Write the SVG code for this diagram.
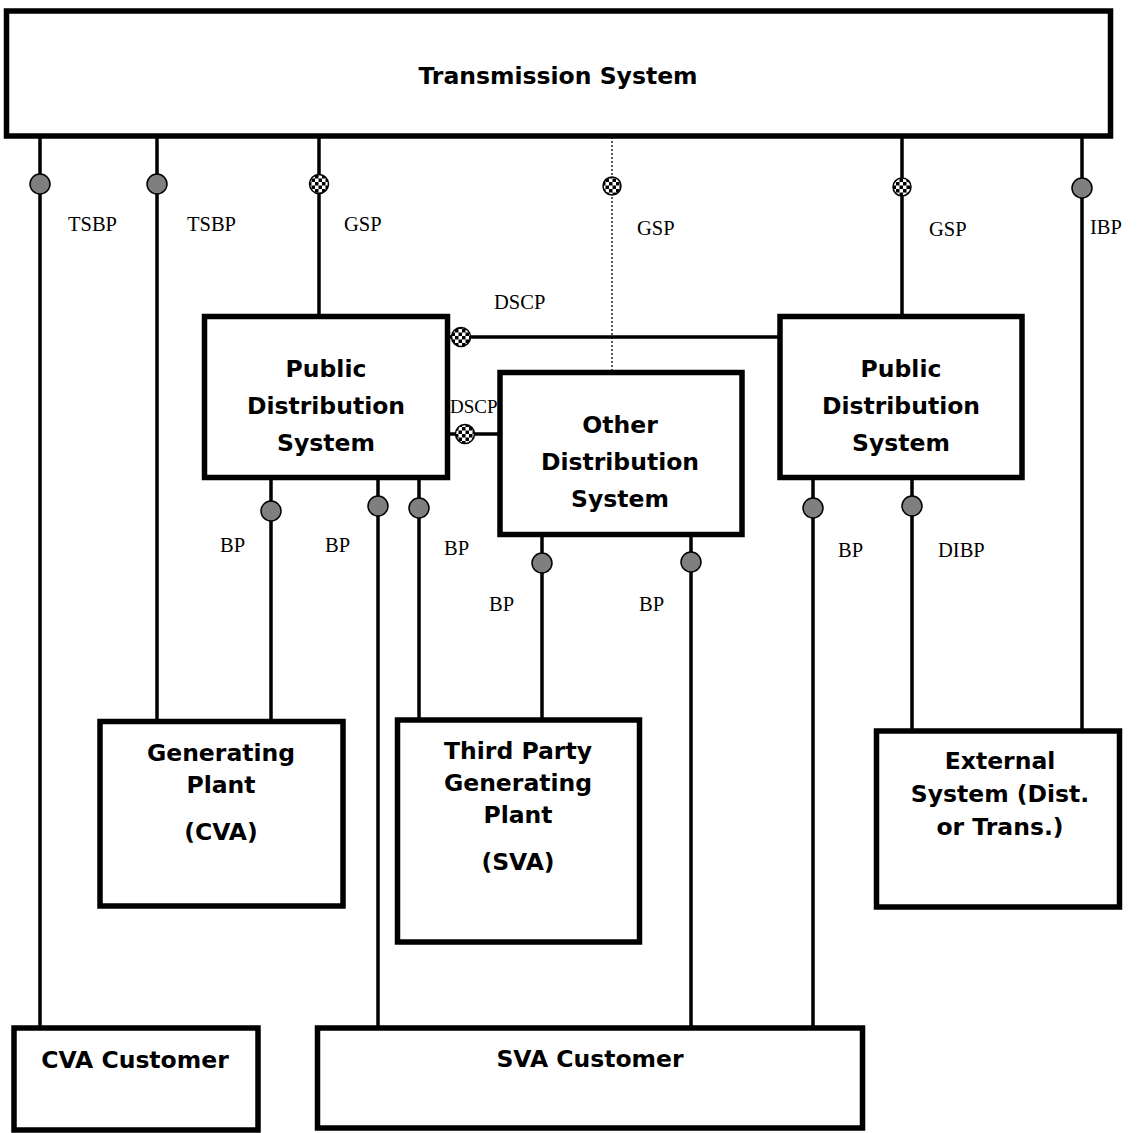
<svg xmlns="http://www.w3.org/2000/svg" width="1142" height="1133" viewBox="0 0 1142 1133">
<defs>
<pattern id="chk" width="7" height="7" patternUnits="userSpaceOnUse">
<rect width="7" height="7" fill="#fff"/>
<rect width="3.5" height="3.5" fill="#000"/>
<rect x="3.5" y="3.5" width="3.5" height="3.5" fill="#000"/>
</pattern>
</defs>
<style>
.box{fill:#fff;stroke:#000;stroke-width:5.5}
.t{font-family:"DejaVu Sans",Verdana,sans-serif;font-weight:bold;font-size:23.5px;text-anchor:middle;fill:#000}
.lbl{font-family:"Liberation Serif","Times New Roman",serif;font-size:20.5px;fill:#000}
.ln{stroke:#000;stroke-width:3.5;fill:none}
.dot{stroke:#000;stroke-width:1.3;stroke-dasharray:2 2;fill:none}
.bp{fill:#7f7f7f;stroke:#000;stroke-width:1.5}
.gsp{fill:url(#chk);stroke:#000;stroke-width:1.5}
</style>
<g id="connectors">
<line class="ln" x1="40" y1="137" x2="40" y2="1028"/>
<line class="ln" x1="157" y1="137" x2="157" y2="721"/>
<line class="ln" x1="319" y1="137" x2="319" y2="316"/>
<line class="dot" x1="612" y1="137" x2="612" y2="372"/>
<line class="ln" x1="902" y1="137" x2="902" y2="316"/>
<line class="ln" x1="1082" y1="137" x2="1082" y2="731"/>
<line class="ln" x1="449" y1="337" x2="779" y2="337"/>
<line class="ln" x1="449" y1="434" x2="500" y2="434"/>
<line class="ln" x1="271" y1="477" x2="271" y2="721"/>
<line class="ln" x1="378" y1="477" x2="378" y2="1028"/>
<line class="ln" x1="419" y1="477" x2="419" y2="720"/>
<line class="ln" x1="542" y1="535" x2="542" y2="720"/>
<line class="ln" x1="691" y1="535" x2="691" y2="1028"/>
<line class="ln" x1="813" y1="477" x2="813" y2="1028"/>
<line class="ln" x1="912" y1="477" x2="912" y2="731"/>
<circle class="bp" cx="40" cy="184" r="10"/>
<circle class="bp" cx="157" cy="184" r="10"/>
<circle class="gsp" cx="319" cy="184" r="9.5"/>
<circle class="gsp" cx="612" cy="186" r="9"/>
<circle class="gsp" cx="902" cy="187" r="9"/>
<circle class="bp" cx="1082" cy="188" r="10"/>
<circle class="gsp" cx="461" cy="337" r="9.5"/>
<circle class="gsp" cx="465" cy="434" r="9.5"/>
<circle class="bp" cx="271" cy="511" r="10"/>
<circle class="bp" cx="378" cy="506" r="10"/>
<circle class="bp" cx="419" cy="508" r="10"/>
<circle class="bp" cx="542" cy="563" r="10"/>
<circle class="bp" cx="691" cy="562" r="10"/>
<circle class="bp" cx="813" cy="508" r="10"/>
<circle class="bp" cx="912" cy="506" r="10"/>
<text class="lbl" x="68" y="231">TSBP</text>
<text class="lbl" x="187" y="231">TSBP</text>
<text class="lbl" x="344" y="231">GSP</text>
<text class="lbl" x="637" y="235">GSP</text>
<text class="lbl" x="929" y="236">GSP</text>
<text class="lbl" x="1090" y="234">IBP</text>
<text class="lbl" x="494" y="309">DSCP</text>
<text class="lbl" x="450" y="413" style="font-size:19px">DSCP</text>
<text class="lbl" x="220" y="552">BP</text>
<text class="lbl" x="325" y="552">BP</text>
<text class="lbl" x="444" y="555">BP</text>
<text class="lbl" x="489" y="611">BP</text>
<text class="lbl" x="639" y="611">BP</text>
<text class="lbl" x="838" y="557">BP</text>
<text class="lbl" x="938" y="557">DIBP</text>
</g>
<g id="transmission">
<rect class="box" x="6.5" y="11" width="1104" height="125"/>
<text class="t" x="558" y="84">Transmission System</text>
</g>
<g id="pds-left">
<rect class="box" x="204.5" y="316.5" width="243" height="161"/>
<text class="t" x="326" y="377">Public</text>
<text class="t" x="326" y="414">Distribution</text>
<text class="t" x="326" y="451">System</text>
</g>
<g id="other-ds">
<rect class="box" x="500" y="372.5" width="242" height="162"/>
<text class="t" x="620" y="433">Other</text>
<text class="t" x="620" y="470">Distribution</text>
<text class="t" x="620" y="507">System</text>
</g>
<g id="pds-right">
<rect class="box" x="780" y="316.5" width="242" height="161"/>
<text class="t" x="901" y="377">Public</text>
<text class="t" x="901" y="414">Distribution</text>
<text class="t" x="901" y="451">System</text>
</g>
<g id="gen-plant">
<rect class="box" x="100" y="721.5" width="243" height="184.5"/>
<text class="t" x="221" y="761">Generating</text>
<text class="t" x="221" y="793">Plant</text>
<text class="t" x="221" y="840">(CVA)</text>
</g>
<g id="third-party">
<rect class="box" x="397.5" y="720" width="242" height="222"/>
<text class="t" x="518" y="759">Third Party</text>
<text class="t" x="518" y="791">Generating</text>
<text class="t" x="518" y="823">Plant</text>
<text class="t" x="518" y="870">(SVA)</text>
</g>
<g id="external">
<rect class="box" x="876.5" y="731" width="243" height="176"/>
<text class="t" x="1000" y="769">External</text>
<text class="t" x="1000" y="802">System (Dist.</text>
<text class="t" x="1000" y="835">or Trans.)</text>
</g>
<g id="cva-customer">
<rect class="box" x="14" y="1028" width="244" height="102"/>
<text class="t" x="135" y="1068">CVA Customer</text>
</g>
<g id="sva-customer">
<rect class="box" x="317.5" y="1028" width="545" height="100"/>
<text class="t" x="590" y="1067">SVA Customer</text>
</g>
</svg>
